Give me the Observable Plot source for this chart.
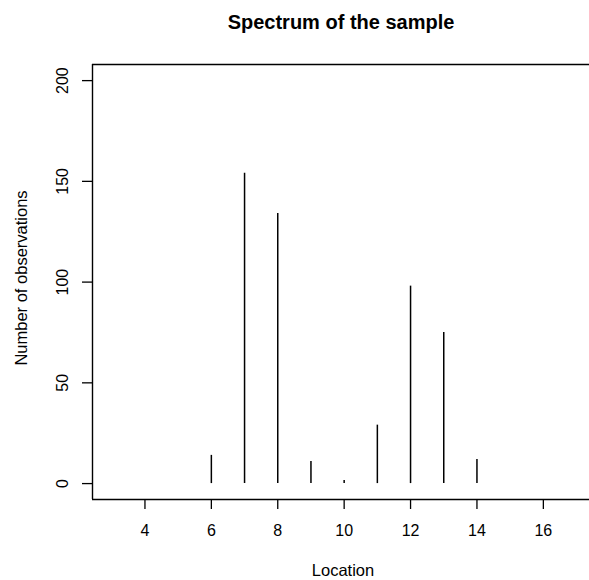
<!DOCTYPE html>
<html><head><meta charset="utf-8">
<script src="https://cdn.jsdelivr.net/npm/d3@7"></script>
<script src="https://cdn.jsdelivr.net/npm/@observablehq/plot@0.6"></script>
<style>body{margin:0;background:#fff}</style>
</head><body><div id="c"></div>
<script>
const locations = [6, 7, 8, 9, 10, 11, 12, 13, 14];
const counts = [14, 154, 134, 11, 1.5, 29, 98, 75, 12];
const xTicks = [4, 6, 8, 10, 12, 14, 16];
const yTicks = [0, 50, 100, 150, 200];
const title = "Spectrum of the sample";
const xLabel = "Location";
const yLabel = "Number of observations";

const data = locations.map((l, i) => ({loc: l, n: counts[i]}));
const font = "Liberation Sans, Arial, Helvetica, sans-serif";
const xDom = [2.42, 17.39];
const yDom = [-7.9, 208];

const chart = Plot.plot({
  width: 589, height: 580,
  marginLeft: 92, marginRight: 0, marginTop: 64, marginBottom: 81,
  style: {fontFamily: font, fontSize: "16px", color: "#000", background: "#fff"},
  x: {domain: xDom},
  y: {domain: yDom},
  marks: [
    Plot.ruleX(data, {x: "loc", y1: 0, y2: "n", stroke: "#000", strokeWidth: 1.5}),
    Plot.ruleY([yDom[0]], {stroke: "#000", strokeWidth: 1.4}),
    Plot.ruleY([yDom[1]], {stroke: "#000", strokeWidth: 1.4}),
    Plot.ruleX([xDom[0]], {stroke: "#000", strokeWidth: 1.4}),
    Plot.axisX({ticks: xTicks, tickSize: 10, tickPadding: 15, label: null, fontSize: 16, strokeWidth: 1.3}),
    Plot.axisY({ticks: yTicks, tickSize: 10, tickFormat: () => "", label: null, strokeWidth: 1.3}),
    Plot.text(yTicks, {y: d => d, text: d => String(d), frameAnchor: "left", dx: -25, rotate: -90, lineAnchor: "bottom", textAnchor: "middle", fontSize: 16}),
    Plot.text([title], {frameAnchor: "top", dy: -36, lineAnchor: "bottom", fontWeight: "bold", fontSize: 20, textAnchor: "middle"}),
    Plot.text([xLabel], {frameAnchor: "bottom", dx: 2, dy: 76, lineAnchor: "bottom", fontSize: 16.5, textAnchor: "middle"}),
    Plot.text([yLabel], {frameAnchor: "left", dx: -66, dy: -4, rotate: -90, lineAnchor: "bottom", fontSize: 16.5, textAnchor: "middle"})
  ]
});
document.getElementById("c").appendChild(chart);
</script></body></html>
